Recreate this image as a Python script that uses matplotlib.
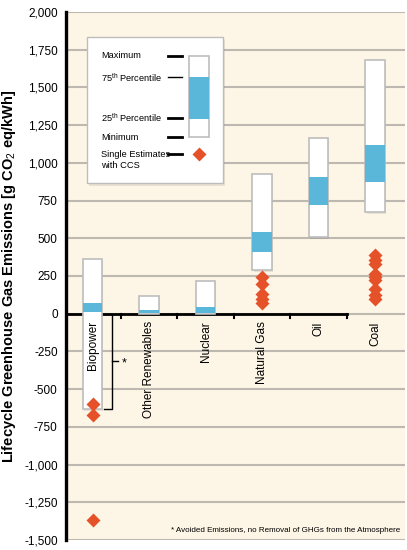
import numpy as np
import matplotlib
matplotlib.use("Agg")
import matplotlib.pyplot as plt
from matplotlib.patches import Rectangle

plt.rcParams['font.family'] = ['Liberation Sans', 'DejaVu Sans']
plt.rcParams['mathtext.fontset'] = 'custom'
plt.rcParams['mathtext.rm'] = 'Liberation Sans'
plt.rcParams['mathtext.bf'] = 'Liberation Sans:bold'

# Data (g CO2 eq/kWh)
categories = ["Biopower", "Other Renewables", "Nuclear", "Natural Gas", "Oil", "Coal"]
minimum = [-633, 0, 1, 290, 510, 675]
p25 = [10, 3, 8, 410, 720, 875]
p75 = [68, 27, 45, 540, 905, 1120]
maximum = [360, 120, 220, 925, 1165, 1685]
ccs_cat = [0, 0, 0, 3, 3, 3, 3, 3, 5, 5, 5, 5, 5, 5, 5, 5, 5]
ccs_val = [-600, -670, -1370, 245, 195, 130, 100, 68, 390, 355, 330, 260, 245, 225, 165, 125, 95]
yticks = np.arange(-1500, 2001, 250)

bg = '#FDF5E6'
blue = '#5BB7D9'
orange = '#E5522A'
grid_c = '#BDB8B0'
edge_c = '#BDBDBD'

fig = plt.figure(figsize=(4.07, 5.5), dpi=100)
ax = fig.add_axes([66 / 407, 10 / 550, 339 / 407, 528 / 550])
ax.set_facecolor(bg)

x = np.arange(len(categories))
w = 0.34

for yv in yticks:
    ax.axhline(yv, color=grid_c, lw=1.5, zorder=1)

# zero line with ticks between categories
ax.plot([-0.47, 4.5], [0, 0], color='black', lw=2, zorder=2)
for t in np.arange(0.5, 5, 1):
    ax.plot([t, t], [0, -30], color='black', lw=1.5, zorder=2)

for i in x:
    # shadow
    ax.add_patch(Rectangle((i - w / 2 + 0.02, minimum[i] - 12), w, maximum[i] - minimum[i],
                           facecolor='#000000', alpha=0.08, lw=0, zorder=3))
    ax.add_patch(Rectangle((i - w / 2, minimum[i]), w, maximum[i] - minimum[i],
                           facecolor='white', edgecolor=edge_c, lw=1.2, zorder=4))
    ax.add_patch(Rectangle((i - w / 2, p25[i]), w, p75[i] - p25[i],
                           facecolor=blue, edgecolor='none', zorder=5))

ax.plot(ccs_cat, ccs_val, 'D', color=orange, ms=7, mec='none', zorder=6)

for i, name in enumerate(categories):
    ax.text(i, -50, name, rotation=90, ha='center', va='top', fontsize=8.5, zorder=7)

# bracket for biopower avoided emissions
bx = 0.34
ax.plot([0.2, bx, bx, 0.2], [0, 0, minimum[0], minimum[0]], color='black', lw=1, zorder=6)
ax.plot([bx, 0.45], [minimum[0] / 2, minimum[0] / 2], color='black', lw=1, zorder=6)
ax.text(0.52, minimum[0] / 2 - 10, '*', fontsize=9, ha='left', va='center')

ax.set_xlim(-0.47, 5.53)
ax.set_ylim(-1500, 2000)
ax.set_yticks(yticks)
ax.set_yticklabels([f"{v:,}" for v in yticks], fontsize=8.5)
ax.tick_params(axis='y', length=0, pad=6)
ax.set_xticks([])
for s in ['top', 'right', 'bottom']:
    ax.spines[s].set_visible(False)
ax.spines['left'].set_linewidth(2.4)
ax.spines['left'].set_color('black')
ax.set_ylabel(r"Lifecycle Greenhouse Gas Emissions [g CO$_2$ eq/kWh]",
              fontsize=10.5, fontweight='bold')
ax.yaxis.set_label_coords(-48 / 339, 0.5)

fig.text(400 / 407, 1 - 530 / 550, "* Avoided Emissions, no Removal of GHGs from the Atmosphere",
         ha='right', va='center', fontsize=5.8)

# legend panel drawn in pixel coordinates
lg = fig.add_axes([0, 0, 1, 1])
lg.set_xlim(0, 407)
lg.set_ylim(550, 0)
lg.axis('off')
lg.add_patch(Rectangle((89, 40), 136, 146, facecolor='black', alpha=0.08, lw=0))
lg.add_patch(Rectangle((87, 37), 136, 146, facecolor='white', edgecolor=edge_c, lw=1))
labels = ["Maximum", r"75$^{\rm th}$ Percentile", r"25$^{\rm th}$ Percentile", "Minimum", "Single Estimates\nwith CCS"]
ly = [55, 78, 118, 137, 160]
dy = [56, 77, 118, 137, 154]
for lab, yy, d in zip(labels, ly, dy):
    lg.text(101, yy, lab, fontsize=6.7, va='center', ha='left', linespacing=1.25)
    lg.plot([168, 182], [d, d], color='black', lw=1 if d == 77 else 2)
lg.add_patch(Rectangle((189, 56), 20, 81, facecolor='white', edgecolor=edge_c, lw=1.2))
lg.add_patch(Rectangle((189, 77), 20, 42, facecolor=blue, lw=0))
lg.plot([199], [154], 'D', color=orange, ms=7, mec='none')

fig.savefig("out.png", dpi=100)
